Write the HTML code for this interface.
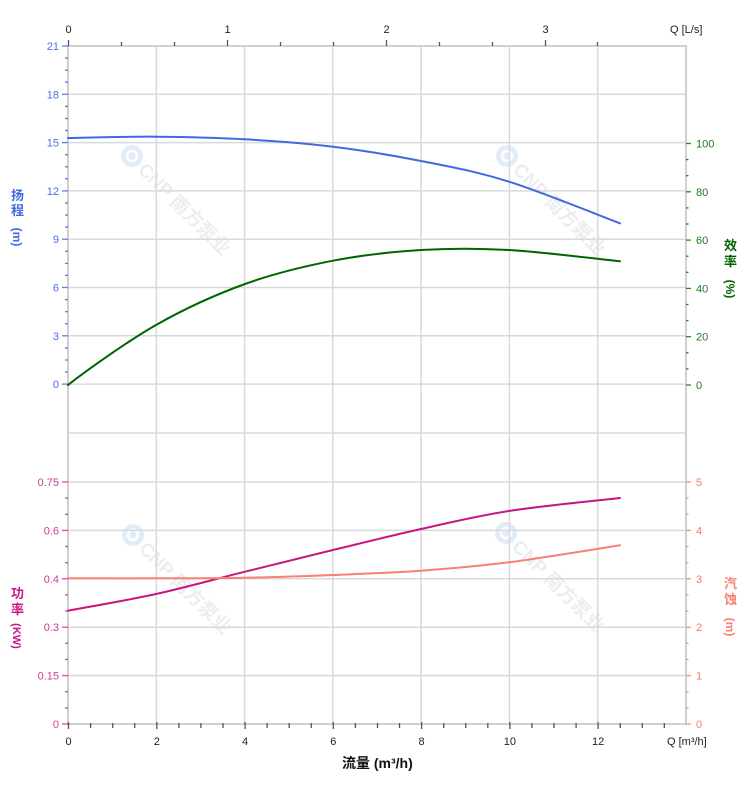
<!DOCTYPE html>
<html><head><meta charset="utf-8"><style>
html,body{margin:0;padding:0;background:#fff;}
svg{display:block;font-family:"Liberation Sans","Noto Sans CJK SC",sans-serif;}
</style></head><body>
<svg width="752" height="797" viewBox="0 0 752 797" xmlns="http://www.w3.org/2000/svg">
<rect width="752" height="797" fill="#fff"/>

<!-- watermarks -->
<g>
  <g transform="translate(132,156) rotate(45)">
    <circle cx="0" cy="0" r="11" fill="#e2ecf6"/>
    <circle cx="0" cy="0" r="5" fill="none" stroke="#fff" stroke-width="2.5"/>
    <text x="14" y="7" font-size="19" font-weight="bold" fill="#ebedef">CNP 南方泵业</text>
  </g>
  <g transform="translate(507,156) rotate(45)">
    <circle cx="0" cy="0" r="11" fill="#e2ecf6"/>
    <circle cx="0" cy="0" r="5" fill="none" stroke="#fff" stroke-width="2.5"/>
    <text x="14" y="7" font-size="19" font-weight="bold" fill="#ebedef">CNP 南方泵业</text>
  </g>
  <g transform="translate(133,535) rotate(45)">
    <circle cx="0" cy="0" r="11" fill="#e2ecf6"/>
    <circle cx="0" cy="0" r="5" fill="none" stroke="#fff" stroke-width="2.5"/>
    <text x="14" y="7" font-size="19" font-weight="bold" fill="#ebedef">CNP 南方泵业</text>
  </g>
  <g transform="translate(506,533) rotate(45)">
    <circle cx="0" cy="0" r="11" fill="#e2ecf6"/>
    <circle cx="0" cy="0" r="5" fill="none" stroke="#fff" stroke-width="2.5"/>
    <text x="14" y="7" font-size="19" font-weight="bold" fill="#ebedef">CNP 南方泵业</text>
  </g>
</g>

<!-- grid -->
<g stroke="#d9d9d9" stroke-width="1.5" fill="none">
  <line x1="68" y1="94.3" x2="686" y2="94.3"/>
  <line x1="68" y1="142.6" x2="686" y2="142.6"/>
  <line x1="68" y1="190.9" x2="686" y2="190.9"/>
  <line x1="68" y1="239.2" x2="686" y2="239.2"/>
  <line x1="68" y1="287.5" x2="686" y2="287.5"/>
  <line x1="68" y1="335.8" x2="686" y2="335.8"/>
  <line x1="68" y1="384.1" x2="686" y2="384.1"/>
  <line x1="68" y1="433" x2="686" y2="433"/>
  <line x1="68" y1="482" x2="686" y2="482"/>
  <line x1="68" y1="530.4" x2="686" y2="530.4"/>
  <line x1="68" y1="578.8" x2="686" y2="578.8"/>
  <line x1="68" y1="627.2" x2="686" y2="627.2"/>
  <line x1="68" y1="675.6" x2="686" y2="675.6"/>
  <line x1="156.3" y1="46" x2="156.3" y2="724"/>
  <line x1="244.6" y1="46" x2="244.6" y2="724"/>
  <line x1="332.8" y1="46" x2="332.8" y2="724"/>
  <line x1="421.1" y1="46" x2="421.1" y2="724"/>
  <line x1="509.4" y1="46" x2="509.4" y2="724"/>
  <line x1="597.7" y1="46" x2="597.7" y2="724"/>
</g>
<!-- frame -->
<g stroke="#d0d0d0" stroke-width="2" fill="none">
  <line x1="68" y1="46" x2="686" y2="46"/>
  <line x1="68" y1="724" x2="686" y2="724"/>
  <line x1="68" y1="45" x2="68" y2="725"/>
  <line x1="686" y1="45" x2="686" y2="725"/>
</g>

<!-- top axis ticks (L/s) -->
<g stroke="#555" stroke-width="1.3">
  <line x1="68.5" y1="40" x2="68.5" y2="46"/>
  <line x1="121.5" y1="42" x2="121.5" y2="46"/>
  <line x1="174.5" y1="42" x2="174.5" y2="46"/>
  <line x1="227.5" y1="40" x2="227.5" y2="46"/>
  <line x1="280.5" y1="42" x2="280.5" y2="46"/>
  <line x1="333.5" y1="42" x2="333.5" y2="46"/>
  <line x1="386.5" y1="40" x2="386.5" y2="46"/>
  <line x1="439.5" y1="42" x2="439.5" y2="46"/>
  <line x1="492.5" y1="42" x2="492.5" y2="46"/>
  <line x1="545.5" y1="40" x2="545.5" y2="46"/>
  <line x1="597.5" y1="42" x2="597.5" y2="46"/>
</g>
<g font-size="11" fill="#222" text-anchor="middle">
  <text x="68.5" y="33">0</text>
  <text x="227.5" y="33">1</text>
  <text x="386.5" y="33">2</text>
  <text x="545.5" y="33">3</text>
</g>
<text x="670" y="33" font-size="11" fill="#222">Q [L/s]</text>

<!-- bottom axis ticks -->
<g stroke="#555" stroke-width="1.3">
  <line x1="68.5" y1="722" x2="68.5" y2="729"/>
  <line x1="90.6" y1="723" x2="90.6" y2="728"/>
  <line x1="112.7" y1="723" x2="112.7" y2="728"/>
  <line x1="134.7" y1="723" x2="134.7" y2="728"/>
  <line x1="156.8" y1="722" x2="156.8" y2="729"/>
  <line x1="178.9" y1="723" x2="178.9" y2="728"/>
  <line x1="200.9" y1="723" x2="200.9" y2="728"/>
  <line x1="223" y1="723" x2="223" y2="728"/>
  <line x1="245.1" y1="722" x2="245.1" y2="729"/>
  <line x1="267.1" y1="723" x2="267.1" y2="728"/>
  <line x1="289.2" y1="723" x2="289.2" y2="728"/>
  <line x1="311.3" y1="723" x2="311.3" y2="728"/>
  <line x1="333.3" y1="722" x2="333.3" y2="729"/>
  <line x1="355.4" y1="723" x2="355.4" y2="728"/>
  <line x1="377.5" y1="723" x2="377.5" y2="728"/>
  <line x1="399.5" y1="723" x2="399.5" y2="728"/>
  <line x1="421.6" y1="722" x2="421.6" y2="729"/>
  <line x1="443.7" y1="723" x2="443.7" y2="728"/>
  <line x1="465.7" y1="723" x2="465.7" y2="728"/>
  <line x1="487.8" y1="723" x2="487.8" y2="728"/>
  <line x1="509.9" y1="722" x2="509.9" y2="729"/>
  <line x1="531.9" y1="723" x2="531.9" y2="728"/>
  <line x1="554" y1="723" x2="554" y2="728"/>
  <line x1="576.1" y1="723" x2="576.1" y2="728"/>
  <line x1="598.1" y1="722" x2="598.1" y2="729"/>
  <line x1="620.2" y1="723" x2="620.2" y2="728"/>
  <line x1="642.3" y1="723" x2="642.3" y2="728"/>
  <line x1="664.3" y1="723" x2="664.3" y2="728"/>
</g>
<g font-size="11" fill="#222" text-anchor="middle">
  <text x="68.5" y="745">0</text>
  <text x="156.8" y="745">2</text>
  <text x="245.1" y="745">4</text>
  <text x="333.3" y="745">6</text>
  <text x="421.6" y="745">8</text>
  <text x="509.9" y="745">10</text>
  <text x="598.1" y="745">12</text>
</g>
<text x="667" y="745" font-size="11" fill="#222">Q [m³/h]</text>
<text x="342" y="768" font-size="14" font-weight="bold" fill="#111">流量 (m³/h)</text>

<!-- left head axis -->
<g stroke="#4169E1" stroke-width="1.3" opacity="0.85">
  <line x1="62" y1="46" x2="68" y2="46"/>
  <line x1="65" y1="58.1" x2="68" y2="58.1"/>
  <line x1="65" y1="70.2" x2="68" y2="70.2"/>
  <line x1="65" y1="82.2" x2="68" y2="82.2"/>
  <line x1="62" y1="94.3" x2="68" y2="94.3"/>
  <line x1="65" y1="106.4" x2="68" y2="106.4"/>
  <line x1="65" y1="118.5" x2="68" y2="118.5"/>
  <line x1="65" y1="130.5" x2="68" y2="130.5"/>
  <line x1="62" y1="142.6" x2="68" y2="142.6"/>
  <line x1="65" y1="154.7" x2="68" y2="154.7"/>
  <line x1="65" y1="166.8" x2="68" y2="166.8"/>
  <line x1="65" y1="178.8" x2="68" y2="178.8"/>
  <line x1="62" y1="190.9" x2="68" y2="190.9"/>
  <line x1="65" y1="203" x2="68" y2="203"/>
  <line x1="65" y1="215.1" x2="68" y2="215.1"/>
  <line x1="65" y1="227.1" x2="68" y2="227.1"/>
  <line x1="62" y1="239.2" x2="68" y2="239.2"/>
  <line x1="65" y1="251.3" x2="68" y2="251.3"/>
  <line x1="65" y1="263.4" x2="68" y2="263.4"/>
  <line x1="65" y1="275.4" x2="68" y2="275.4"/>
  <line x1="62" y1="287.5" x2="68" y2="287.5"/>
  <line x1="65" y1="299.6" x2="68" y2="299.6"/>
  <line x1="65" y1="311.7" x2="68" y2="311.7"/>
  <line x1="65" y1="323.7" x2="68" y2="323.7"/>
  <line x1="62" y1="335.8" x2="68" y2="335.8"/>
  <line x1="65" y1="347.9" x2="68" y2="347.9"/>
  <line x1="65" y1="360" x2="68" y2="360"/>
  <line x1="65" y1="372" x2="68" y2="372"/>
  <line x1="62" y1="384.1" x2="68" y2="384.1"/>
</g>
<g font-size="11" fill="#4a70e4" text-anchor="end">
  <text x="59" y="50">21</text>
  <text x="59" y="98.3">18</text>
  <text x="59" y="146.6">15</text>
  <text x="59" y="194.9">12</text>
  <text x="59" y="243.2">9</text>
  <text x="59" y="291.5">6</text>
  <text x="59" y="339.8">3</text>
  <text x="59" y="388.1">0</text>
</g>
<g fill="#4169E1" font-size="13" font-weight="bold" text-anchor="middle">
  <text x="17.5" y="200">扬</text>
  <text x="17.5" y="215">程</text>
  <text transform="translate(13,237) rotate(90)" font-size="12">(m)</text>
</g>

<!-- right efficiency axis -->
<g stroke="#006400" stroke-width="1.3" opacity="0.8">
  <line x1="686" y1="143.5" x2="691" y2="143.5"/>
  <line x1="686" y1="159.6" x2="688.5" y2="159.6"/>
  <line x1="686" y1="175.7" x2="688.5" y2="175.7"/>
  <line x1="686" y1="191.8" x2="691" y2="191.8"/>
  <line x1="686" y1="207.9" x2="688.5" y2="207.9"/>
  <line x1="686" y1="224" x2="688.5" y2="224"/>
  <line x1="686" y1="240.1" x2="691" y2="240.1"/>
  <line x1="686" y1="256.2" x2="688.5" y2="256.2"/>
  <line x1="686" y1="272.3" x2="688.5" y2="272.3"/>
  <line x1="686" y1="288.4" x2="691" y2="288.4"/>
  <line x1="686" y1="304.5" x2="688.5" y2="304.5"/>
  <line x1="686" y1="320.6" x2="688.5" y2="320.6"/>
  <line x1="686" y1="336.7" x2="691" y2="336.7"/>
  <line x1="686" y1="352.8" x2="688.5" y2="352.8"/>
  <line x1="686" y1="368.9" x2="688.5" y2="368.9"/>
  <line x1="686" y1="385" x2="691" y2="385"/>
</g>
<g font-size="11" fill="#1f7a1f">
  <text x="696" y="147.5">100</text>
  <text x="696" y="195.8">80</text>
  <text x="696" y="244.1">60</text>
  <text x="696" y="292.4">40</text>
  <text x="696" y="340.7">20</text>
  <text x="696" y="389">0</text>
</g>
<g fill="#006400" font-size="13" font-weight="bold" text-anchor="middle">
  <text x="730.5" y="250">效</text>
  <text x="730.5" y="266">率</text>
  <text transform="translate(726,289) rotate(90)" font-size="12">(%)</text>
</g>

<!-- lower left power axis -->
<g stroke="#C71585" stroke-width="1.3" opacity="0.75">
  <line x1="62" y1="482" x2="68" y2="482"/>
  <line x1="65" y1="498.1" x2="68" y2="498.1"/>
  <line x1="65" y1="514.3" x2="68" y2="514.3"/>
  <line x1="62" y1="530.4" x2="68" y2="530.4"/>
  <line x1="65" y1="546.5" x2="68" y2="546.5"/>
  <line x1="65" y1="562.7" x2="68" y2="562.7"/>
  <line x1="62" y1="578.8" x2="68" y2="578.8"/>
  <line x1="65" y1="594.9" x2="68" y2="594.9"/>
  <line x1="65" y1="611.1" x2="68" y2="611.1"/>
  <line x1="62" y1="627.2" x2="68" y2="627.2"/>
  <line x1="65" y1="643.3" x2="68" y2="643.3"/>
  <line x1="65" y1="659.5" x2="68" y2="659.5"/>
  <line x1="62" y1="675.6" x2="68" y2="675.6"/>
  <line x1="65" y1="691.7" x2="68" y2="691.7"/>
  <line x1="65" y1="707.9" x2="68" y2="707.9"/>
  <line x1="62" y1="724" x2="68" y2="724"/>
</g>
<g font-size="11" fill="#cc3d93" text-anchor="end">
  <text x="59" y="486">0.75</text>
  <text x="59" y="534.4">0.6</text>
  <text x="59" y="582.8">0.4</text>
  <text x="59" y="631.2">0.3</text>
  <text x="59" y="679.6">0.15</text>
  <text x="59" y="728">0</text>
</g>
<g fill="#C71585" font-size="13" font-weight="bold" text-anchor="middle">
  <text x="17.5" y="598">功</text>
  <text x="17.5" y="614">率</text>
  <text transform="translate(13,636) rotate(90)" font-size="11">(KW)</text>
</g>

<!-- lower right NPSH axis -->
<g stroke="#FA8072" stroke-width="1.3" opacity="0.85">
  <line x1="686" y1="482" x2="691" y2="482"/>
  <line x1="686" y1="498.1" x2="688.5" y2="498.1"/>
  <line x1="686" y1="514.3" x2="688.5" y2="514.3"/>
  <line x1="686" y1="530.4" x2="691" y2="530.4"/>
  <line x1="686" y1="546.5" x2="688.5" y2="546.5"/>
  <line x1="686" y1="562.7" x2="688.5" y2="562.7"/>
  <line x1="686" y1="578.8" x2="691" y2="578.8"/>
  <line x1="686" y1="594.9" x2="688.5" y2="594.9"/>
  <line x1="686" y1="611.1" x2="688.5" y2="611.1"/>
  <line x1="686" y1="627.2" x2="691" y2="627.2"/>
  <line x1="686" y1="643.3" x2="688.5" y2="643.3"/>
  <line x1="686" y1="659.5" x2="688.5" y2="659.5"/>
  <line x1="686" y1="675.6" x2="691" y2="675.6"/>
  <line x1="686" y1="691.7" x2="688.5" y2="691.7"/>
  <line x1="686" y1="707.9" x2="688.5" y2="707.9"/>
  <line x1="686" y1="724" x2="691" y2="724"/>
</g>
<g font-size="11" fill="#f47a6c">
  <text x="696" y="486">5</text>
  <text x="696" y="534.4">4</text>
  <text x="696" y="582.8">3</text>
  <text x="696" y="631.2">2</text>
  <text x="696" y="679.6">1</text>
  <text x="696" y="728">0</text>
</g>
<g fill="#FA8072" font-size="13" font-weight="bold" text-anchor="middle">
  <text x="730.5" y="588">汽</text>
  <text x="730.5" y="604">蚀</text>
  <text transform="translate(726,627) rotate(90)" font-size="12">(m)</text>
</g>

<!-- curves -->
<g fill="none" stroke-width="2" stroke-linecap="round" stroke-linejoin="round">
  <path stroke="#4169E1" d="M68,138 C82.7,137.8 126.5,136.5 156,136.7 C185.5,136.9 215.5,137.6 245,139.3 C274.5,141 303.7,143.1 333,146.7 C362.3,150.3 391.7,155.2 421,161 C450.3,166.8 475.8,171.3 509,181.7 C542.2,192.1 601.5,216.4 620,223.3"/>
  <path stroke="#006400" d="M68,385 C82.7,373.4 126.5,341.8 156,325 C185.5,308.2 215.5,294.7 245,284 C274.5,273.3 303.7,266.4 333,260.7 C362.3,255 391.7,251.8 421,250 C450.3,248.2 475.8,248.1 509,250 C542.2,251.9 601.5,259.4 620,261.3"/>
  <path stroke="#C71585" d="M68,610.7 C82.7,607.9 126.5,600.5 156,594 C185.5,587.5 215.5,579 245,571.7 C274.5,564.4 303.7,557.1 333,550 C362.3,542.9 391.7,535.5 421,529 C450.3,522.5 475.8,516.2 509,511 C542.2,505.8 601.5,500.2 620,498"/>
  <path stroke="#FA8072" d="M68,578.3 C82.7,578.3 126.5,578.4 156,578.3 C185.5,578.2 215.5,578.2 245,577.7 C274.5,577.2 303.7,576.2 333,575 C362.3,573.8 391.7,572.8 421,570.7 C450.3,568.6 475.8,566.5 509,562.3 C542.2,558.1 601.5,548.1 620,545.3"/>
</g>
</svg>
</body></html>
